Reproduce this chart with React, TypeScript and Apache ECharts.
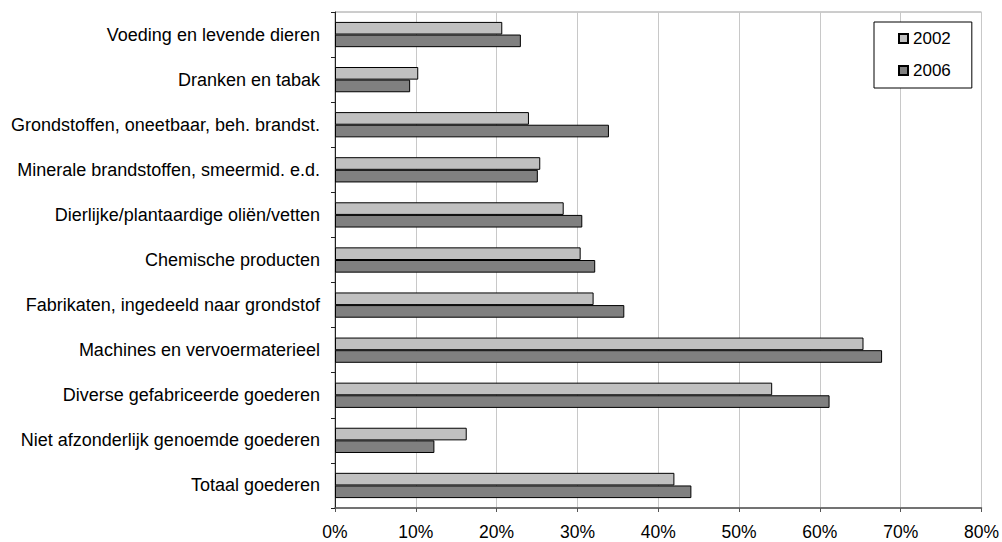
import React, { useEffect, useRef } from "react";
import * as echarts from "echarts";

const categories = [
  "Voeding en levende dieren",
  "Dranken en tabak",
  "Grondstoffen, oneetbaar, beh. brandst.",
  "Minerale brandstoffen, smeermid. e.d.",
  "Dierlijke/plantaardige oliën/vetten",
  "Chemische producten",
  "Fabrikaten, ingedeeld naar grondstof",
  "Machines en vervoermaterieel",
  "Diverse gefabriceerde goederen",
  "Niet afzonderlijk genoemde goederen",
  "Totaal goederen",
];

const values2002 = [20.7, 10.3, 24.0, 25.4, 28.3, 30.4, 32.0, 65.4, 54.1, 16.3, 42.0];
const values2006 = [23.0, 9.3, 33.9, 25.1, 30.6, 32.2, 35.8, 67.7, 61.2, 12.3, 44.1];

const FONT = "'Liberation Sans', Arial, sans-serif";

export default function App() {
  const ref = useRef<HTMLDivElement>(null);
  useEffect(() => {
    document.body.style.margin = "0";
    if (!ref.current) return;
    const chart = echarts.init(ref.current, null, { renderer: "svg" });
    chart.setOption({
      animation: false,
      backgroundColor: "#ffffff",
      textStyle: { fontFamily: FONT },
      grid: {
        left: 335,
        right: 17,
        top: 12,
        bottom: 34,
        show: true,
        borderColor: "#9a9a9a",
        borderWidth: 1,
        backgroundColor: "transparent",
      },
      legend: {
        orient: "vertical",
        left: 874,
        top: 22,
        padding: [8, 21, 9, 24],
        itemGap: 15,
        itemWidth: 9,
        itemHeight: 9,
        icon: "rect",
        borderColor: "#000",
        borderWidth: 1,
        backgroundColor: "#fff",
        textStyle: { fontSize: 17, color: "#000", fontFamily: FONT },
        data: ["2002", "2006"],
      },
      xAxis: {
        type: "value",
        min: 0,
        max: 80,
        interval: 10,
        axisLine: { show: true, lineStyle: { color: "#555", width: 1.5 } },
        axisTick: { show: true, length: 4, lineStyle: { color: "#555" } },
        axisLabel: {
          formatter: "{value}%",
          fontSize: 17.5,
          color: "#000",
          fontFamily: FONT,
          margin: 15,
        },
        splitLine: { show: true, lineStyle: { color: "#c8c8c8", width: 1 } },
      },
      yAxis: {
        type: "category",
        inverse: true,
        data: categories,
        axisLine: { show: true, lineStyle: { color: "#222", width: 1 } },
        axisTick: { show: true, length: 4, lineStyle: { color: "#222" } },
        axisLabel: { fontSize: 18, color: "#000", fontFamily: FONT, margin: 15 },
        splitLine: { show: false },
      },
      series: [
        {
          name: "2002",
          type: "bar",
          data: values2002,
          barGap: "0%",
          barCategoryGap: "44%",
          itemStyle: { color: "#c0c0c0", borderColor: "#000", borderWidth: 1 },
        },
        {
          name: "2006",
          type: "bar",
          data: values2006,
          barGap: "0%",
          barCategoryGap: "44%",
          itemStyle: { color: "#808080", borderColor: "#000", borderWidth: 1 },
        },
      ],
    });
    return () => chart.dispose();
  }, []);
  return <div ref={ref} style={{ width: 1002, height: 542 }} />;
}
